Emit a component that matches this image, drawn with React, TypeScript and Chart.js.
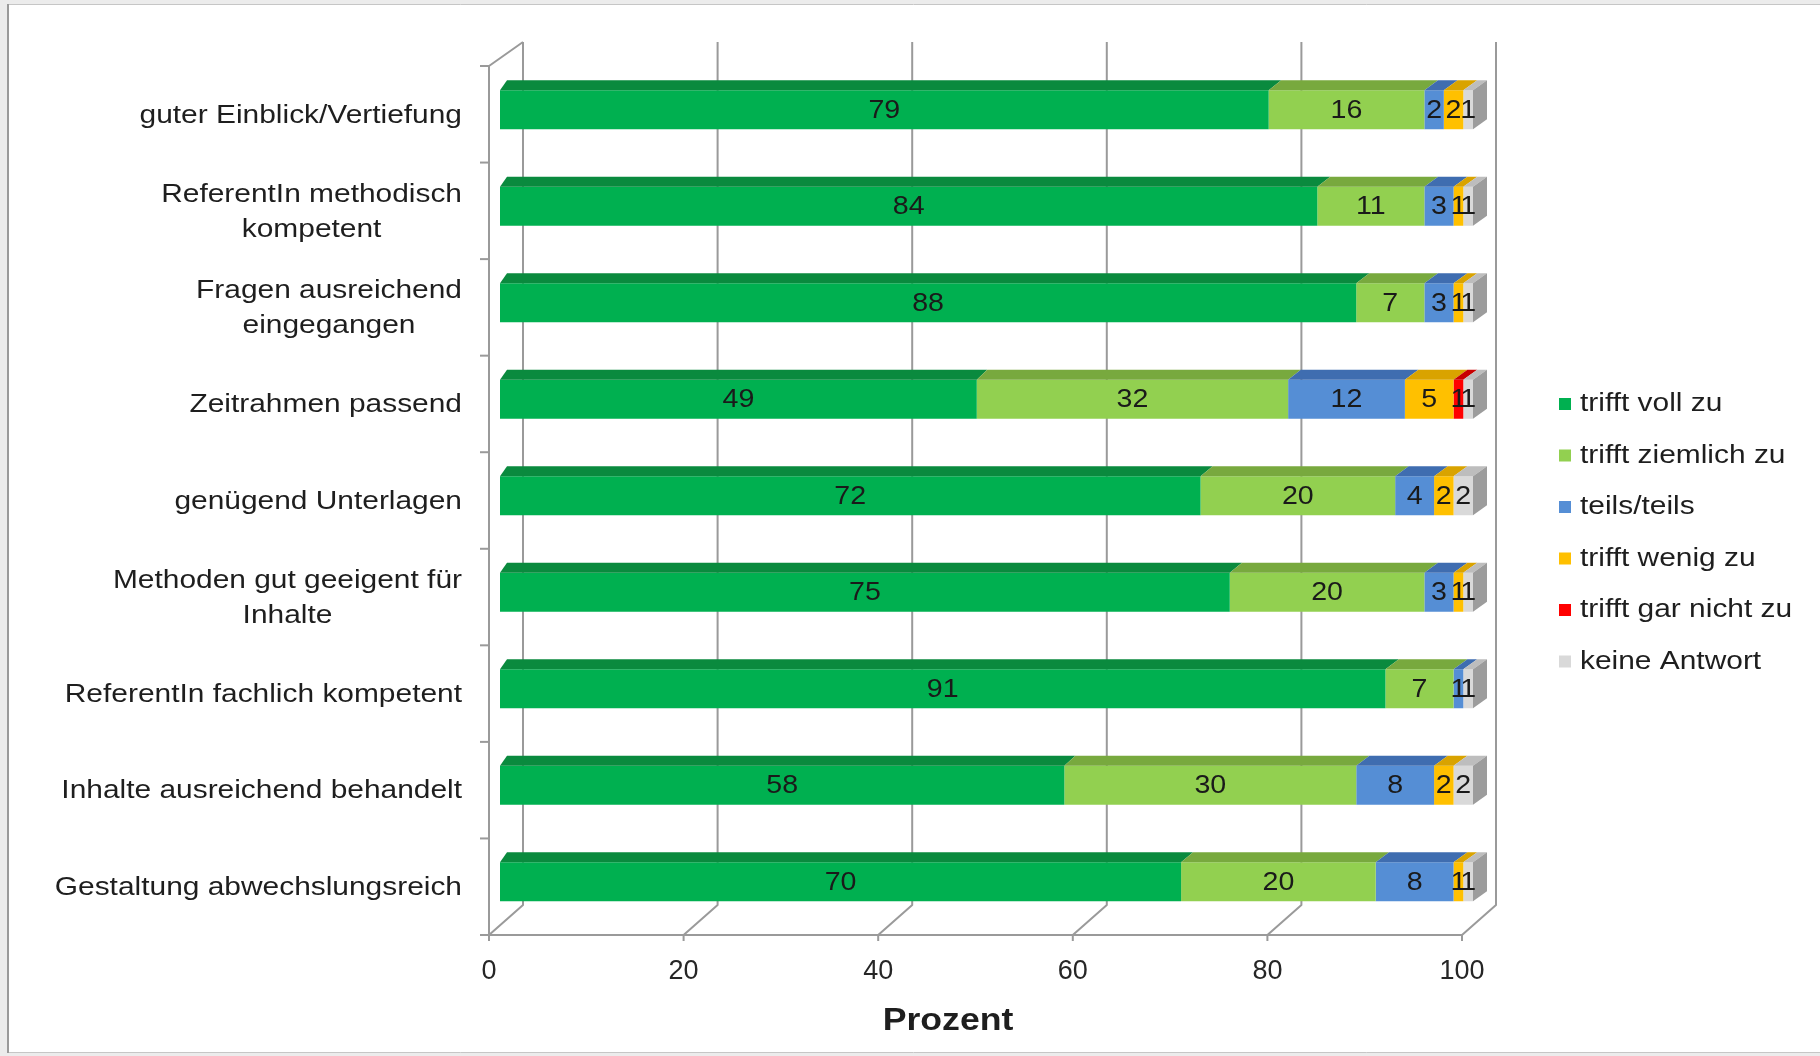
import React, { useEffect, useRef } from 'react';
import { Chart, registerables } from 'chart.js';

Chart.register(...registerables);

// ---------- data ----------
const categories: string[][] = [
  ['guter Einblick/Vertiefung'],
  ['ReferentIn methodisch', 'kompetent'],
  ['Fragen ausreichend', 'eingegangen'],
  ['Zeitrahmen passend'],
  ['genügend Unterlagen'],
  ['Methoden gut geeigent für', 'Inhalte'],
  ['ReferentIn fachlich kompetent'],
  ['Inhalte ausreichend behandelt'],
  ['Gestaltung abwechslungsreich'],
];
const seriesNames = [
  'trifft voll zu',
  'trifft ziemlich zu',
  'teils/teils',
  'trifft wenig zu',
  'trifft gar nicht zu',
  'keine Antwort',
];
const trifftVollZu = [79, 84, 88, 49, 72, 75, 91, 58, 70];
const trifftZiemlichZu = [16, 11, 7, 32, 20, 20, 7, 30, 20];
const teilsTeils = [2, 3, 3, 12, 4, 3, 1, 8, 8];
const trifftWenigZu = [2, 1, 1, 5, 2, 1, 0, 2, 1];
const trifftGarNichtZu = [0, 0, 0, 1, 0, 0, 0, 0, 0];
const keineAntwort = [1, 1, 1, 1, 2, 1, 1, 2, 1];
const xTicks = [0, 20, 40, 60, 80, 100];
const axisTitle = 'Prozent';

// ---------- styles ----------
const frontColors = ['#00B050', '#92D050', '#558ED5', '#FFC000', '#FF0000', '#D9D9D9'];
const topColors = ['#0A8A3E', '#78A93E', '#3F6DB0', '#D9A300', '#C80000', '#BDBDBD'];
const sideColor = '#9C9C9C';
const FONT = '"Liberation Sans", Arial, Helvetica, sans-serif';
const SX = 1.15;
const W = 1820;
const H = 1056;

function sText(ctx: CanvasRenderingContext2D, text: string, x: number, y: number, size: number, align: CanvasTextAlign, bold = false, sx = SX) {
  ctx.save();
  ctx.font = `${bold ? 'bold ' : ''}${size}px ${FONT}`;
  ctx.textBaseline = 'middle';
  ctx.textAlign = align;
  ctx.translate(x, y);
  ctx.scale(sx, 1);
  ctx.fillText(text, 0, 0);
  ctx.restore();
}
function sWidth(ctx: CanvasRenderingContext2D, text: string, size: number, bold = false, sx = SX) {
  ctx.save();
  ctx.font = `${bold ? 'bold ' : ''}${size}px ${FONT}`;
  const w = ctx.measureText(text).width * sx;
  ctx.restore();
  return w;
}

const FRONT_DX = -11;
const FRONT_DY_TOP = 4.5;
const FRONT_DY_BOTTOM = 5;
const WALL_DX = 34;
const WALL_DY_TOP = 24;
const WALL_DY_BOTTOM = 30;
const BAR_DY = 10;
const LABEL_DY = 6;

const depthPlugin = {
  id: 'depth3d',
  beforeDraw(chart: any) {
    const ctx: CanvasRenderingContext2D = chart.ctx;
    ctx.save();
    ctx.fillStyle = '#ffffff';
    ctx.fillRect(0, 0, W, H);
    ctx.fillStyle = '#ececec';
    ctx.fillRect(0, 0, W, 4);
    ctx.fillRect(0, 0, 7, H);
    ctx.fillRect(0, 1053, W, 3);
    ctx.strokeStyle = '#c6c6c6';
    ctx.lineWidth = 1;
    ctx.beginPath();
    ctx.moveTo(7, 4.5);
    ctx.lineTo(W, 4.5);
    ctx.moveTo(7, 1052.5);
    ctx.lineTo(W, 1052.5);
    ctx.stroke();
    ctx.strokeStyle = '#9a9a9a';
    ctx.lineWidth = 2;
    ctx.beginPath();
    ctx.moveTo(8, 4);
    ctx.lineTo(8, 1053);
    ctx.stroke();
    ctx.restore();
  },
  beforeDatasetsDraw(chart: any) {
    const ctx: CanvasRenderingContext2D = chart.ctx;
    const xs = chart.scales.x;
    const ca = chart.chartArea;
    const fTop = ca.top + FRONT_DY_TOP;
    const fBot = ca.bottom + FRONT_DY_BOTTOM;
    const fx = (v: number) => xs.getPixelForValue(v) + FRONT_DX;
    ctx.save();
    ctx.strokeStyle = '#9a9a9a';
    ctx.lineWidth = 2;
    ctx.lineJoin = 'round';
    xTicks.forEach((v) => {
      const xf = fx(v);
      const xb = xf + WALL_DX;
      ctx.beginPath();
      ctx.moveTo(xb, fTop - WALL_DY_TOP);
      ctx.lineTo(xb, fBot - WALL_DY_BOTTOM);
      ctx.lineTo(xf, fBot);
      ctx.lineTo(xf, fBot + 6);
      ctx.stroke();
    });
    const x0 = fx(0);
    ctx.beginPath();
    ctx.moveTo(x0 + WALL_DX, fTop - WALL_DY_TOP);
    ctx.lineTo(x0, fTop);
    ctx.lineTo(x0, fBot);
    ctx.lineTo(fx(100), fBot);
    ctx.stroke();
    const n = categories.length;
    for (let k = 0; k <= n; k++) {
      const y = fTop + ((fBot - fTop) * k) / n;
      ctx.beginPath();
      ctx.moveTo(x0 - 9, y);
      ctx.lineTo(x0, y);
      ctx.stroke();
    }
    ctx.restore();
  },
  afterDatasetsDraw(chart: any) {
    const ctx: CanvasRenderingContext2D = chart.ctx;
    const xs = chart.scales.x;
    const xl = xs.getPixelForValue(0);
    const xr = xs.getPixelForValue(100);
    const dxAt = (x: number) => 7 + (7 * (x - xl)) / (xr - xl);
    const nDs = chart.data.datasets.length;
    const n = categories.length;
    ctx.save();
    for (let i = 0; i < n; i++) {
      let rightEl: any = null;
      for (let d = 0; d < nDs; d++) {
        const meta = chart.getDatasetMeta(d);
        const el = meta.data[i];
        const val = chart.data.datasets[d].data[i];
        if (!el || !val) continue;
        const p = el.getProps(['x', 'y', 'base', 'height'], true);
        const x0 = Math.min(p.x, p.base);
        const x1 = Math.max(p.x, p.base);
        const top = p.y - p.height / 2;
        ctx.fillStyle = topColors[d];
        ctx.beginPath();
        ctx.moveTo(x0, top);
        ctx.lineTo(x1, top);
        ctx.lineTo(x1 + dxAt(x1), top - BAR_DY);
        ctx.lineTo(x0 + dxAt(x0), top - BAR_DY);
        ctx.closePath();
        ctx.fill();
        if (!rightEl || x1 >= rightEl.x1) rightEl = { x1, top, bottom: p.y + p.height / 2 };
      }
      if (rightEl) {
        const dx = dxAt(rightEl.x1);
        ctx.fillStyle = sideColor;
        ctx.beginPath();
        ctx.moveTo(rightEl.x1, rightEl.top);
        ctx.lineTo(rightEl.x1 + dx, rightEl.top - BAR_DY);
        ctx.lineTo(rightEl.x1 + dx, rightEl.bottom - BAR_DY);
        ctx.lineTo(rightEl.x1, rightEl.bottom);
        ctx.closePath();
        ctx.fill();
      }
    }
    ctx.fillStyle = '#1a1a1a';
    for (let d = 0; d < nDs; d++) {
      const meta = chart.getDatasetMeta(d);
      meta.data.forEach((el: any, i: number) => {
        const val = chart.data.datasets[d].data[i];
        if (!val) return;
        const p = el.getProps(['x', 'y', 'base'], true);
        sText(ctx, String(val), (p.x + p.base) / 2, p.y + 1, 26, 'center', false, 1.1);
      });
    }
    ctx.restore();
  },
  afterDraw(chart: any) {
    const ctx: CanvasRenderingContext2D = chart.ctx;
    const ys = chart.scales.y;
    const ca = chart.chartArea;
    ctx.save();
    ctx.fillStyle = '#1e1e1e';
    const rightEdge = ca.left - 38;
    categories.forEach((lines, i) => {
      const cy = ys.getPixelForValue(i) + LABEL_DY;
      const widths = lines.map((l) => sWidth(ctx, l, 26));
      const bw = Math.max(...widths);
      const cx = rightEdge - bw / 2;
      const lh = 35;
      lines.forEach((l, k) => {
        const y = cy + (k - (lines.length - 1) / 2) * lh;
        sText(ctx, l, cx, y, 26, 'center');
      });
    });
    sText(ctx, axisTitle, 948, 1021, 31, 'center', true);
    const ds = chart.data.datasets;
    ds.forEach((d: any, k: number) => {
      const y = 404 + k * 51.5;
      ctx.fillStyle = d.backgroundColor;
      ctx.fillRect(1559, y - 6, 12, 12);
      ctx.fillStyle = '#1e1e1e';
      sText(ctx, d.label, 1580, y, 26, 'left');
    });
    ctx.restore();
  },
};

export default function App() {
  const ref = useRef<HTMLCanvasElement | null>(null);
  useEffect(() => {
    if (!ref.current) return;
    const series = [trifftVollZu, trifftZiemlichZu, teilsTeils, trifftWenigZu, trifftGarNichtZu, keineAntwort];
    const chart = new Chart(ref.current, {
      type: 'bar',
      data: {
        labels: categories.map((c) => c.join(' ')),
        datasets: series.map((data, k) => ({
          label: seriesNames[k],
          data,
          backgroundColor: frontColors[k],
          borderWidth: 0,
          categoryPercentage: 1,
          barPercentage: 0.404,
        })),
      },
      options: {
        indexAxis: 'y',
        animation: false,
        responsive: false,
        devicePixelRatio: 1,
        layout: { padding: { left: 500, right: 347, top: 61.5, bottom: 0 } },
        plugins: {
          legend: { display: false },
          tooltip: { enabled: false },
        },
        scales: {
          x: {
            type: 'linear',
            min: 0,
            max: 100,
            stacked: true,
            grid: { display: false, drawTicks: false },
            border: { display: false },
            ticks: {
              stepSize: 20,
              autoSkip: false,
              maxRotation: 0,
              padding: 25,
              labelOffset: -11,
              color: '#262626',
              font: { family: FONT, size: 27 },
            },
            afterFit(scale: any) {
              scale.height = 126;
            },
          },
          y: {
            type: 'category',
            stacked: true,
            display: false,
          },
        },
      } as any,
      plugins: [depthPlugin],
    });
    return () => chart.destroy();
  }, []);
  return (
    <div style={{ position: 'absolute', left: 0, top: 0, width: W, height: H }}>
      <canvas ref={ref} width={W} height={H} style={{ display: 'block', width: W, height: H }} />
    </div>
  );
}
